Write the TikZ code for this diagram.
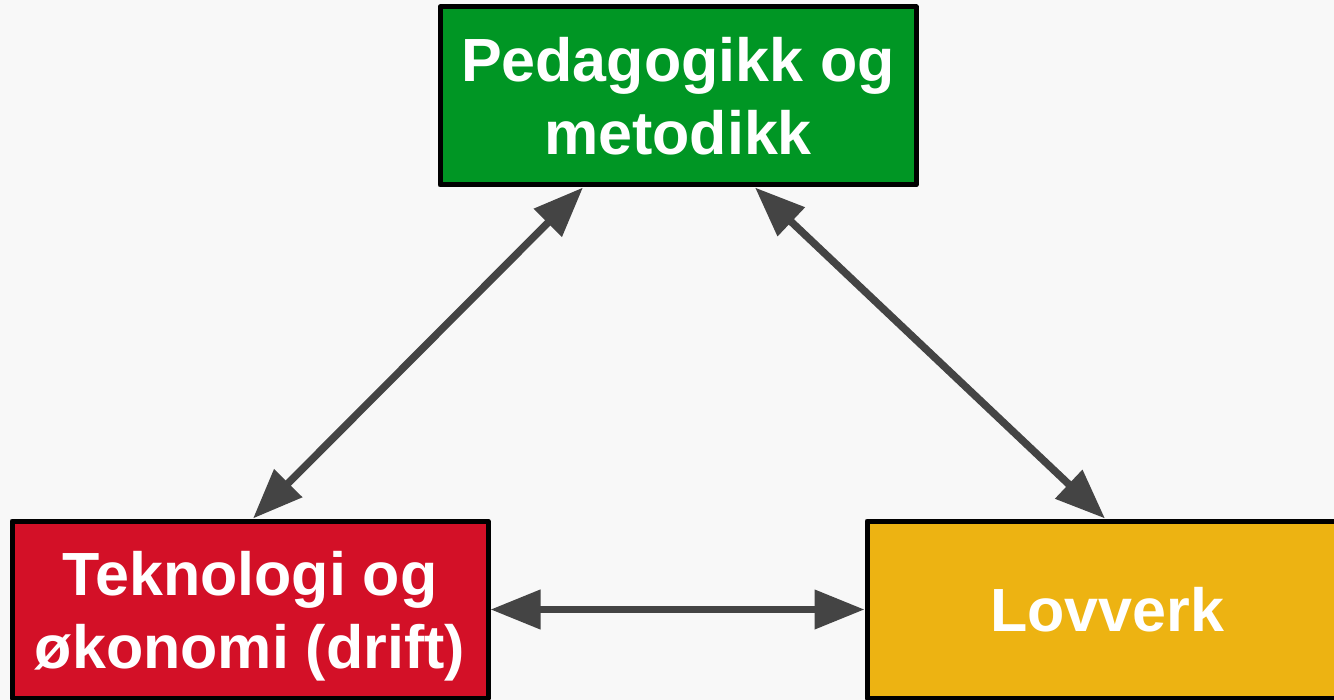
\documentclass[tikz,border=0pt]{standalone}
\usepackage{fontspec}
\setmainfont{Liberation Sans}
\usetikzlibrary{arrows.meta}
\definecolor{bg}{RGB}{248,248,248}
\definecolor{boxgreen}{RGB}{0,150,36}
\definecolor{boxred}{RGB}{211,16,39}
\definecolor{boxyellow}{RGB}{237,179,18}
\definecolor{arrowgray}{RGB}{68,68,68}
\tikzset{
  topicbox/.style={draw=black, line width=5pt, line join=round, text=white,
    align=center, inner sep=0pt, minimum height=177pt, text depth=0pt,
    font=\fontsize{61pt}{73pt}\selectfont\bfseries},
  link/.style={draw=arrowgray, line width=7.5pt,
    {Triangle[length=50pt,width=38pt]}-{Triangle[length=50pt,width=38pt]}}
}
\begin{document}
\begin{tikzpicture}[x=1pt,y=-1pt]
\useasboundingbox (0,0) rectangle (1334,700);
\fill[bg] (0,0) rectangle (1334,700);
\clip (0,0) rectangle (1334,700);
\node[topicbox, fill=boxgreen, minimum width=476pt, minimum height=178pt] (ped) at (678,96) {Pedagogikk og\\metodikk};
\node[topicbox, fill=boxred, minimum width=476pt] (tek) at (250,609.5) {Teknologi og\\økonomi (drift)};
\node[topicbox, fill=boxyellow, minimum width=480pt] (lov) at (1107,609.5) {Lovverk};
\draw[link] ([xshift=-95pt]ped.south) -- ([xshift=3pt]tek.north);
\draw[link] ([xshift=77pt]ped.south) -- ([xshift=-2pt]lov.north);
\draw[link] (tek.east) -- (lov.west);
\end{tikzpicture}
\end{document}
